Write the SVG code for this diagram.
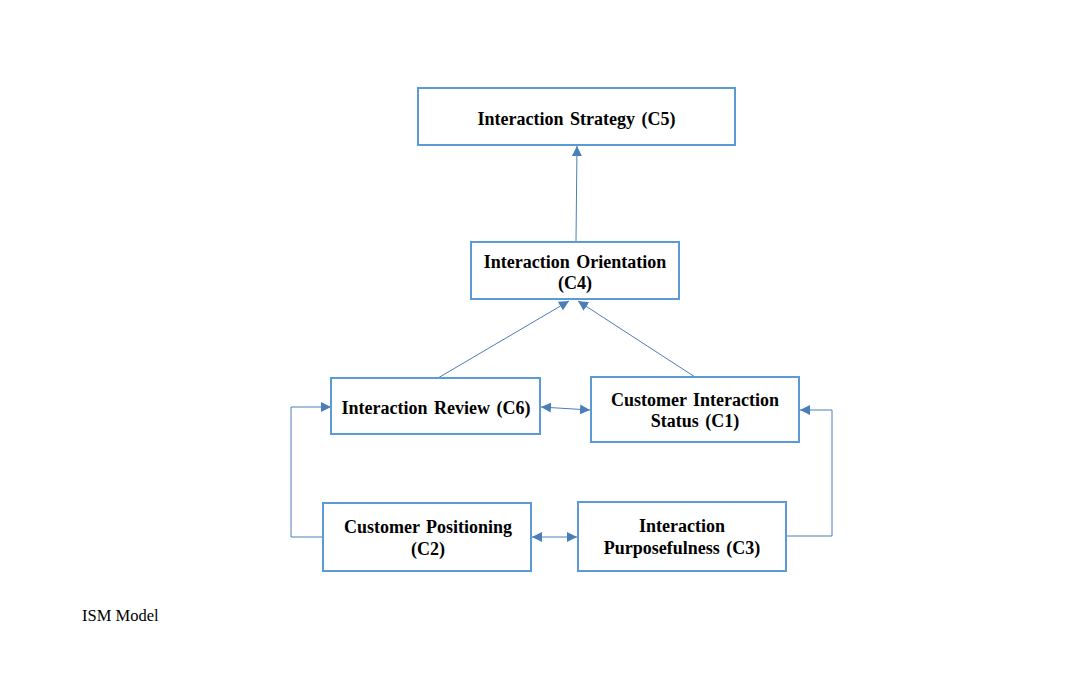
<svg xmlns="http://www.w3.org/2000/svg" width="1084" height="681" viewBox="0 0 1084 681">
<style>
.box{fill:#fff;stroke:#5B9BD5;stroke-width:2}
.t{font-family:"Liberation Serif","Times New Roman",serif;font-weight:bold;font-size:18px;word-spacing:2px;fill:#000;text-anchor:middle}
.c{fill:none;stroke:#4A7EBB;stroke-width:1}
</style>
<defs>
<marker id="ah" viewBox="0 0 10 10" refX="10" refY="5" markerWidth="10" markerHeight="10" markerUnits="userSpaceOnUse" orient="auto-start-reverse">
<path d="M0,0 L10,5 L0,10 z" fill="#4A7EBB"/>
</marker>
</defs>
<rect width="1084" height="681" fill="#fff"/>
<g id="connectors">
<line class="c" x1="576" y1="241" x2="577" y2="146" marker-end="url(#ah)"/>
<line class="c" x1="438" y1="378" x2="569" y2="301" marker-end="url(#ah)"/>
<line class="c" x1="695" y1="377" x2="578" y2="301" marker-end="url(#ah)"/>
<line class="c" x1="541" y1="407" x2="590" y2="410" marker-start="url(#ah)" marker-end="url(#ah)"/>
<line class="c" x1="532" y1="537" x2="577" y2="537" marker-start="url(#ah)" marker-end="url(#ah)"/>
<polyline class="c" points="323,537 291,537 291,407 331,407" marker-end="url(#ah)"/>
<polyline class="c" points="786,536 832,536 832,410 800,410" marker-end="url(#ah)"/>
</g>
<g id="C5">
<rect class="box" x="418" y="88" width="317" height="57"/>
<text class="t" x="576.5" y="125">Interaction Strategy (C5)</text>
</g>
<g id="C4">
<rect class="box" x="471" y="242" width="208" height="57"/>
<text class="t" x="575" y="268">Interaction Orientation</text>
<text class="t" x="575" y="289">(C4)</text>
</g>
<g id="C6">
<rect class="box" x="331" y="378" width="209" height="56"/>
<text class="t" x="436" y="414">Interaction Review (C6)</text>
</g>
<g id="C1">
<rect class="box" x="591" y="377" width="208" height="65"/>
<text class="t" x="695" y="406">Customer Interaction</text>
<text class="t" x="695" y="427">Status (C1)</text>
</g>
<g id="C2">
<rect class="box" x="323" y="503" width="208" height="68"/>
<text class="t" x="428" y="533">Customer Positioning</text>
<text class="t" x="428" y="555">(C2)</text>
</g>
<g id="C3">
<rect class="box" x="578" y="502" width="208" height="69"/>
<text class="t" x="682" y="532">Interaction</text>
<text class="t" x="682" y="554">Purposefulness (C3)</text>
</g>
<text x="82" y="621" font-family="Liberation Serif, Times New Roman, serif" font-size="16.5" fill="#000">ISM Model</text>
</svg>
